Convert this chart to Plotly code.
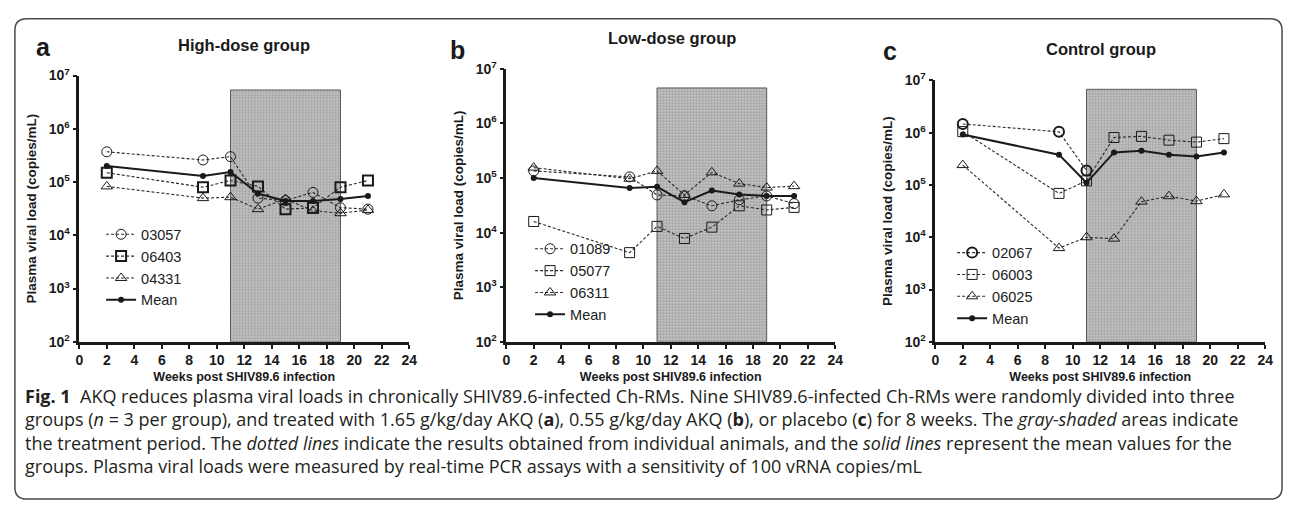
import plotly.graph_objects as go

W, H = 1293, 508

# ---------------- data ----------------
weeks = [2, 9, 11, 13, 15, 17, 19, 21]
treat_start, treat_end = 11, 19
shade_top_log = [6.73, 6.65, 6.83]   # top edge of the gray treatment box per panel
y_tickvals = [1e2, 1e3, 1e4, 1e5, 1e6, 1e7]
y_ticktext = ["10<sup>2</sup>", "10<sup>3</sup>", "10<sup>4</sup>", "10<sup>5</sup>", "10<sup>6</sup>", "10<sup>7</sup>"]
x_tickvals = list(range(0, 25, 2))

# panel a: high-dose
a_names = ["03057", "06403", "04331"]
a_03057 = [3.7e5, 2.6e5, 3.0e5, 5.0e4, 4.5e4, 6.4e4, 3.3e4, 3.1e4]
a_06403 = [1.5e5, 8.0e4, 1.07e5, 8.3e4, 3.1e4, 3.3e4, 8.0e4, 1.07e5]
a_04331 = [8.3e4, 5.0e4, 5.2e4, 3.1e4, 4.8e4, 2.9e4, 2.6e4, 3.0e4]
a_mean = [2.0e5, 1.3e5, 1.55e5, 6.1e4, 4.4e4, 4.4e4, 4.8e4, 5.5e4]

# panel b: low-dose
b_names = ["01089", "05077", "06311"]
b_01089 = [1.35e5, 1.05e5, 4.9e4, 4.7e4, 3.1e4, 4.0e4, 4.7e4, 3.4e4]
b_05077 = [1.6e4, 4.3e3, 1.3e4, 7.8e3, 1.26e4, 3.1e4, 2.6e4, 2.9e4]
b_06311 = [1.55e5, 9.7e4, 1.35e5, 4.9e4, 1.27e5, 7.9e4, 6.7e4, 7.1e4]
b_mean = [1.0e5, 6.6e4, 6.9e4, 3.6e4, 5.9e4, 5.0e4, 4.7e4, 4.7e4]

# panel c: control
c_names = ["02067", "06003", "06025"]
c_weeks_02067 = [2, 9, 11]
c_02067 = [1.47e6, 1.04e6, 1.9e5]
c_06003 = [1.05e6, 6.9e4, 1.2e5, 8.1e5, 8.5e5, 7.2e5, 6.6e5, 7.7e5]
c_06025 = [2.4e5, 6.2e3, 1.0e4, 9.4e3, 4.8e4, 6.1e4, 4.9e4, 6.6e4]
c_mean = [9.2e5, 3.8e5, 1.1e5, 4.2e5, 4.5e5, 3.8e5, 3.5e5, 4.2e5]

panel_titles = ["High-dose group", "Low-dose group", "Control group"]
panel_letters = ["a", "b", "c"]
x_title = "Weeks post SHIV89.6 infection"
y_title = "Plasma viral load (copies/mL)"

caption_lines = [
    "<b>Fig. 1</b>\u00a0\u00a0AKQ reduces plasma viral loads in chronically SHIV89.6-infected Ch-RMs. Nine SHIV89.6-infected Ch-RMs were randomly divided into three",
    "groups (<i>n</i> = 3 per group), and treated with 1.65 g/kg/day AKQ (<b>a</b>), 0.55 g/kg/day AKQ (<b>b</b>), or placebo (<b>c</b>) for 8 weeks. The <i>gray-shaded</i> areas indicate",
    "the treatment period. The <i>dotted lines</i> indicate the results obtained from individual animals, and the <i>solid lines</i> represent the mean values for the",
    "groups. Plasma viral loads were measured by real-time PCR assays with a sensitivity of 100 vRNA copies/mL",
]

# ---------------- layout helpers (pixel -> paper) ----------------
def px(x):
    return x / W

def py(y):
    return 1 - y / H

panels = [
    dict(x0=76, x1=409, yt=68, lx=98, ly=216, tx=242, ty=36, lx_l=40, ly_l=38),
    dict(x0=507, x1=839, yt=61, lx=531, ly=231, tx=674, ty=29, lx_l=458, ly_l=41),
    dict(x0=940, x1=1273, yt=73, lx=957, ly=235, tx=1107, ty=40, lx_l=894, ly_l=43),
]
y_bottom = 344

FONT = "Liberation Sans, Arial, sans-serif"
DASH = "3px,2px"
INK = "#1a1a1a"

fig = go.Figure()

series = [
    [(weeks, a_03057, a_names[0], "circle-open", 1), (weeks, a_06403, a_names[1], "square-open", 2),
     (weeks, a_04331, a_names[2], "triangle-up-open", 1), (weeks, a_mean, "Mean", None, 0)],
    [(weeks, b_01089, b_names[0], "circle-open", 1), (weeks, b_05077, b_names[1], "square-open", 1),
     (weeks, b_06311, b_names[2], "triangle-up-open", 1), (weeks, b_mean, "Mean", None, 0)],
    [(c_weeks_02067, c_02067, c_names[0], "circle-open", 2), (weeks, c_06003, c_names[1], "square-open", 1),
     (weeks, c_06025, c_names[2], "triangle-up-open", 1), (weeks, c_mean, "Mean", None, 0)],
]

for i, p in enumerate(panels):
    k = "" if i == 0 else str(i + 1)
    xa, ya = "x" + k, "y" + k
    leg = "legend" + k
    top = 10 ** shade_top_log[i]
    # treatment shading
    fig.add_trace(go.Bar(
        x=[(treat_start + treat_end) / 2], y=[top - 1e2], base=[1e2],
        width=[treat_end - treat_start], xaxis=xa, yaxis=ya, showlegend=False,
        marker=dict(color="#c4c4c4", line=dict(color="#5a5a5a", width=1),
                    pattern=dict(shape=".", fgcolor="#707070", bgcolor="#c8c8c8", size=3, solidity=0.45)),
        hoverinfo="skip"))
    for (xs, ys, name, sym, mlw) in series[i]:
        if sym is None:
            fig.add_trace(go.Scatter(
                x=xs, y=ys, name=name, mode="lines+markers", xaxis=xa, yaxis=ya, legend=leg,
                line=dict(color=INK, width=2),
                marker=dict(symbol="circle", size=6, color=INK)))
        else:
            fig.add_trace(go.Scatter(
                x=xs, y=ys, name=name, mode="lines+markers", xaxis=xa, yaxis=ya, legend=leg,
                line=dict(color="#2a2a2a", width=1.1, dash=DASH),
                marker=dict(symbol=sym, size=10, color=INK, line=dict(width=mlw, color=INK))))

    axis_common = dict(showgrid=False, zeroline=False, showline=True, linecolor=INK, linewidth=2.5,
                       ticks="outside", ticklen=4, tickwidth=2, tickcolor=INK,
                       tickfont=dict(family=FONT, size=14, color=INK, weight="bold"))
    fig.layout["xaxis" + k] = dict(
        axis_common, domain=[px(p["x0"]), px(p["x1"])], range=[0, 24],
        tickvals=x_tickvals, anchor=ya,
        title=dict(text=x_title, font=dict(family=FONT, size=12.5, color=INK, weight="bold"), standoff=5))
    fig.layout["yaxis" + k] = dict(
        axis_common, domain=[py(y_bottom), py(p["yt"])], type="log", range=[2, 7],
        tickvals=y_tickvals, ticktext=y_ticktext, anchor=xa,
        title=dict(text=y_title, font=dict(family=FONT, size=13.5, color=INK, weight="bold"), standoff=9))
    fig.layout[leg] = dict(x=px(p["lx"]), y=py(p["ly"]), xanchor="left", yanchor="top",
                           bgcolor="rgba(0,0,0,0)", borderwidth=0, tracegroupgap=0,
                           font=dict(family=FONT, size=14.5, color="#222222"))
    fig.add_annotation(x=px(p["tx"]), y=py(p["ty"]), xref="paper", yref="paper", text=panel_titles[i],
                       showarrow=False, xanchor="center", yanchor="middle",
                       font=dict(family=FONT, size=16.5, color=INK, weight="bold"))
    fig.add_annotation(x=px(p["lx_l"]), y=py(p["ly_l"]), xref="paper", yref="paper", text=panel_letters[i],
                       showarrow=False, xanchor="center", yanchor="middle",
                       font=dict(family=FONT, size=25, color=INK, weight="bold"))

# caption (one multi-line text block)
fig.add_annotation(x=px(19), y=py(436), xref="paper", yref="paper", text="<br>".join(caption_lines),
                   showarrow=False, xanchor="left", yanchor="middle", align="left",
                   font=dict(family="Open Sans, Noto Sans, sans-serif", size=18, color="#231f20"))

# rounded border
x0, y0, x1, y1, r = 11, 9, 1290, 507, 12
path = (f"M {px(x0 + r)},{py(y0)} L {px(x1 - r)},{py(y0)} Q {px(x1)},{py(y0)} {px(x1)},{py(y0 + r)} "
        f"L {px(x1)},{py(y1 - r)} Q {px(x1)},{py(y1)} {px(x1 - r)},{py(y1)} "
        f"L {px(x0 + r)},{py(y1)} Q {px(x0)},{py(y1)} {px(x0)},{py(y1 - r)} "
        f"L {px(x0)},{py(y0 + r)} Q {px(x0)},{py(y0)} {px(x0 + r)},{py(y0)} Z")
fig.add_shape(type="path", path=path, xref="paper", yref="paper", line=dict(color="#4a4a4a", width=1.5))

fig.update_layout(width=W, height=H, margin=dict(l=0, r=0, t=0, b=0), paper_bgcolor="white",
                  plot_bgcolor="rgba(0,0,0,0)", barmode="overlay", showlegend=True)

fig.write_html("out.html")
